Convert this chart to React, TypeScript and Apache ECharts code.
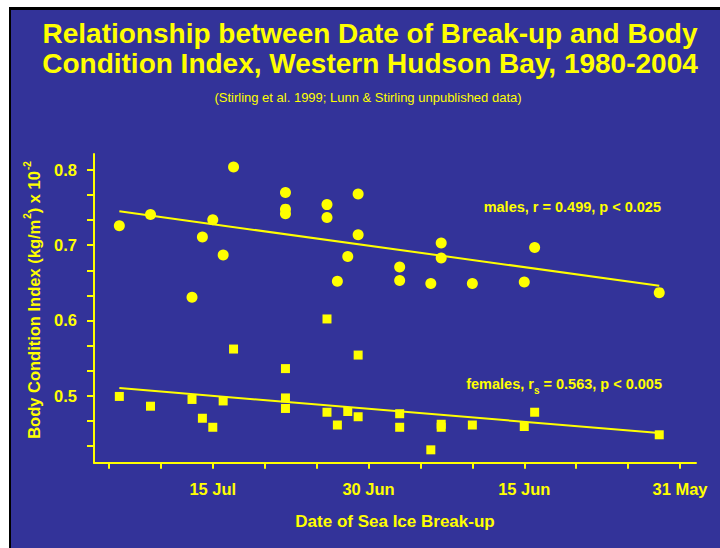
import React, { useEffect, useRef } from "react";
import * as echarts from "echarts";

// x = days after 31 May (31 May = 0, 15 Jun = 15, 30 Jun = 30, 15 Jul = 45); axis runs later dates on the left
const maleDays = [54, 51, 47, 46, 45, 44, 43, 38, 38, 38, 34, 34, 33, 32, 31, 31, 27, 27, 24, 23, 23, 20, 15, 14, 2];
const maleBCI = [0.726, 0.741, 0.631, 0.711, 0.734, 0.687, 0.804, 0.770, 0.748, 0.742, 0.754, 0.737, 0.652, 0.685, 0.768, 0.714, 0.671, 0.653, 0.649, 0.703, 0.683, 0.649, 0.651, 0.697, 0.637];

const femaleDays = [54, 51, 47, 46, 45, 44, 43, 38, 38, 38, 34, 34, 33, 32, 31, 31, 27, 27, 24, 23, 23, 20, 15, 14, 2];
const femaleBCI = [0.499, 0.486, 0.495, 0.470, 0.458, 0.493, 0.562, 0.536, 0.497, 0.483, 0.478, 0.602, 0.461, 0.479, 0.472, 0.554, 0.476, 0.458, 0.428, 0.462, 0.458, 0.461, 0.459, 0.478, 0.448];

const maleFitDays = [54, 2];
const maleFitBCI = [0.7451, 0.6462];
const femaleFitDays = [54, 2];
const femaleFitBCI = [0.5102, 0.4504];

const xTickDays = [0, 5, 10, 15, 20, 25, 30, 35, 40, 45, 50, 55];
const xLabelDays = [0, 15, 30, 45];
const xLabelTexts = ["31 May", "15 Jun", "30 Jun", "15 Jul"];

const yTickValues = [0.4333, 0.4667, 0.5, 0.5333, 0.5667, 0.6, 0.6333, 0.6667, 0.7, 0.7333, 0.7667, 0.8];
const yLabelValues = [0.5, 0.6, 0.7, 0.8];

const titleLines = [
  "Relationship between Date of Break-up and Body",
  "Condition Index, Western Hudson Bay, 1980-2004",
];
const subtitle = "(Stirling et al. 1999; Lunn & Stirling unpublished data)";

const YEL = "#FFFF00";
const BG = "#333399";
const FONT = "'Liberation Sans', Arial, Helvetica, sans-serif";

export default function App() {
  const ref = useRef<HTMLDivElement>(null);
  useEffect(() => {
    if (!ref.current) return;
    const chart = echarts.init(ref.current, undefined, { renderer: "svg" });
    const zip = (a: number[], b: number[]) => a.map((v, i) => [v, b[i]]);
    chart.setOption({
      animation: false,
      backgroundColor: BG,
      textStyle: { fontFamily: FONT },
      grid: { left: 94, right: 24, top: 154, bottom: 85.3 },
      xAxis: {
        type: "value",
        inverse: true,
        min: -1.54,
        max: 56.44,
        axisLine: { show: true, onZero: false, lineStyle: { color: YEL, width: 2 } },
        axisTick: { show: true, customValues: xTickDays, length: 6, lineStyle: { color: YEL, width: 2 } },
        axisLabel: {
          show: true,
          customValues: xLabelDays,
          margin: 18,
          color: YEL,
          fontSize: 16.5,
          fontWeight: "bold",
          fontFamily: FONT,
          formatter: (v: number) => {
            const i = xLabelDays.indexOf(Math.round(v));
            return i >= 0 ? xLabelTexts[i] : "";
          },
        },
        splitLine: { show: false },
      },
      yAxis: {
        type: "value",
        min: 0.4109,
        max: 0.8213,
        axisLine: { show: true, onZero: false, lineStyle: { color: YEL, width: 2 } },
        axisTick: { show: true, customValues: yTickValues, length: 7, lineStyle: { color: YEL, width: 2 } },
        axisLabel: {
          show: true,
          customValues: yLabelValues,
          margin: 17,
          color: YEL,
          fontSize: 16.5,
          fontWeight: "bold",
          fontFamily: FONT,
          formatter: (v: number) => v.toFixed(1),
        },
        splitLine: { show: false },
      },
      graphic: [
        { type: "rect", shape: { x: 0, y: 0, width: 720, height: 7 }, style: { fill: "#ffffff" }, z: 100 },
        { type: "rect", shape: { x: 0, y: 0, width: 9, height: 548 }, style: { fill: "#ffffff" }, z: 100 },
        { type: "rect", shape: { x: 9, y: 7, width: 711, height: 3 }, style: { fill: "#000000" }, z: 100 },
        { type: "rect", shape: { x: 9, y: 7, width: 2, height: 541 }, style: { fill: "#000000" }, z: 100 },
        {
          type: "text", x: 370, y: 33, z: 100,
          style: { text: titleLines[0], fill: YEL, font: `bold 28px ${FONT}`, align: "center", verticalAlign: "middle" },
        },
        {
          type: "text", x: 370, y: 63, z: 100,
          style: { text: titleLines[1], fill: YEL, font: `bold 28px ${FONT}`, align: "center", verticalAlign: "middle" },
        },
        {
          type: "text", x: 368, y: 97, z: 100,
          style: { text: subtitle, fill: YEL, font: `13px ${FONT}`, align: "center", verticalAlign: "middle" },
        },
        {
          type: "text", x: 32, y: 300, rotation: Math.PI / 2, z: 100,
          style: {
            text: "{a|Body Condition Index (kg/m}{s|2}{a|) x 10}{s|-2}",
            fill: YEL,
            align: "center",
            verticalAlign: "middle",
            rich: {
              a: { fill: YEL, fontSize: 16.5, fontWeight: "bold", fontFamily: FONT, lineHeight: 20, verticalAlign: "bottom" },
              s: { fill: YEL, fontSize: 10, fontWeight: "bold", fontFamily: FONT, lineHeight: 20, verticalAlign: "top", padding: [0, 0, 0, 1] },
            },
          },
        },
        {
          type: "text", x: 395, y: 521, z: 100,
          style: { text: "Date of Sea Ice Break-up", fill: YEL, font: `bold 17px ${FONT}`, align: "center", verticalAlign: "middle" },
        },
        {
          type: "text", x: 661, y: 207, z: 100,
          style: { text: "males, r = 0.499, p < 0.025", fill: YEL, font: `bold 14.5px ${FONT}`, align: "right", verticalAlign: "middle" },
        },
        {
          type: "text", x: 662, y: 384, z: 100,
          style: {
            text: "{a|females, r}{b|s}{a| = 0.563, p < 0.005}",
            fill: YEL,
            align: "right",
            verticalAlign: "middle",
            rich: {
              a: { fill: YEL, fontSize: 14.5, fontWeight: "bold", fontFamily: FONT, lineHeight: 22, verticalAlign: "middle" },
              b: { fill: YEL, fontSize: 10, fontWeight: "bold", fontFamily: FONT, lineHeight: 22, verticalAlign: "bottom" },
            },
          },
        },
      ],
      series: [
        {
          type: "line",
          data: zip(maleFitDays, maleFitBCI),
          symbol: "none",
          lineStyle: { color: YEL, width: 2 },
          z: 2,
        },
        {
          type: "line",
          data: zip(femaleFitDays, femaleFitBCI),
          symbol: "none",
          lineStyle: { color: YEL, width: 2 },
          z: 2,
        },
        {
          type: "scatter",
          data: zip(maleDays, maleBCI),
          symbol: "circle",
          symbolSize: 11,
          itemStyle: { color: YEL, opacity: 1 },
          z: 3,
        },
        {
          type: "scatter",
          data: zip(femaleDays, femaleBCI),
          symbol: "rect",
          symbolSize: 9,
          itemStyle: { color: YEL, opacity: 1 },
          z: 3,
        },
      ],
    });
    return () => chart.dispose();
  }, []);
  return (
    <div
      ref={ref}
      style={{ position: "absolute", left: 0, top: 0, width: 720, height: 548 }}
    />
  );
}
